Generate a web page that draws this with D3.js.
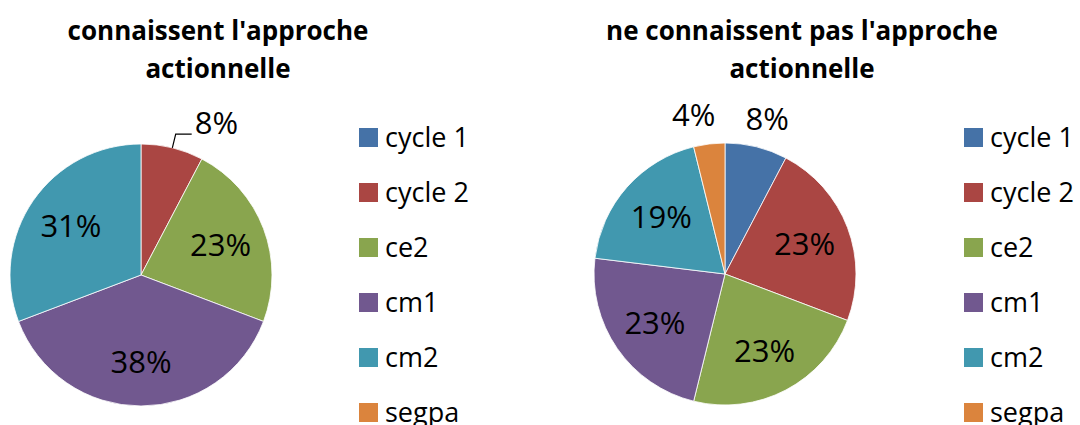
<!DOCTYPE html>
<html>
<head>
<meta charset="utf-8">
<style>
  body { margin: 0; background: #fff; }
  svg { display: block; font-family: "Open Sans", sans-serif; }
</style>
<script src="https://d3js.org/d3.v7.min.js"></script>
</head>
<body>
<script>
// data (counts per class, shown as %)
const categories = ["cycle 1", "cycle 2", "ce2", "cm1", "cm2", "segpa"];
const colors = ["#4572A7", "#AA4643", "#89A54E", "#71588F", "#4198AF", "#DB843D"];
const titleLeft = ["connaissent l'approche", "actionnelle"];
const titleRight = ["ne connaissent pas l'approche", "actionnelle"];
const valuesLeft = [0, 1, 3, 5, 4, 0];
const valuesRight = [2, 6, 6, 6, 5, 1];

const w = 1080, h = 425;
const svg = d3.select("body").append("svg").attr("width", w).attr("height", h);

const color = d3.scaleOrdinal().domain(categories).range(colors);
const pie = d3.pie().sort(null).value(d => d.v);

function drawChart(cfg) {
    const g = svg.append("g");
    const r = cfg.r;

    g.append("text")
        .attr("x", cfg.titleX).attr("y", 40)
        .attr("text-anchor", "middle")
        .style("font-weight", "bold").style("font-size", "26px")
        .selectAll("tspan").data(cfg.title).enter().append("tspan")
        .attr("x", cfg.titleX).attr("dy", (d, i) => i ? 38 : 0)
        .text(d => d);

    const data = categories.map((c, i) => ({ c: c, v: cfg.values[i] }));
    const total = d3.sum(cfg.values);
    const arcs = pie(data);
    const arc = d3.arc().innerRadius(0).outerRadius(r);
    const pg = g.append("g").attr("transform", `translate(${cfg.cx},${cfg.cy})`);

    pg.selectAll("path").data(arcs.filter(a => a.data.v > 0)).enter().append("path")
        .attr("d", arc)
        .attr("fill", d => color(d.data.c))
        .attr("stroke", "#fff").attr("stroke-width", 0.8);

    const fmt = d => Math.round(d.data.v / total * 100) + "%";
    const mid = d => (d.startAngle + d.endAngle) / 2;

    // inside labels
    pg.selectAll("text.in").data(arcs.filter(a => a.data.v / total >= 0.1)).enter()
        .append("text").attr("class", "in")
        .attr("x", d => Math.sin(mid(d)) * r * 0.65)
        .attr("y", d => -Math.cos(mid(d)) * r * 0.66)
        .attr("dy", "0.36em")
        .attr("text-anchor", "middle")
        .style("font-size", "31px")
        .text(fmt);

    // small slices: labels outside
    const small = arcs.filter(a => a.data.v > 0 && a.data.v / total < 0.1);
    small.forEach(d => {
        const a = mid(d);
        if (cfg.leader) {
            const p0 = [Math.sin(a) * r, -Math.cos(a) * r];
            const p1 = [Math.sin(a) * (r + 14), -Math.cos(a) * (r + 14)];
            const p2 = [p1[0] + 16, p1[1]];
            pg.append("path")
                .attr("d", d3.line()([p0, p1, p2]))
                .attr("fill", "none").attr("stroke", "#000").attr("stroke-width", 1.2);
            pg.append("text")
                .attr("x", p2[0] + 3).attr("y", p2[1])
                .style("font-size", "31px")
                .text(fmt(d));
        } else {
            // push label sideways away from the top so neighbours keep apart
            const R = r + 29;
            const side = Math.sin(a) < 0 ? -12 : 4;
            pg.append("text")
                .attr("x", Math.sin(a) * R + side)
                .attr("y", -Math.cos(a) * R)
                .attr("dy", "0.36em")
                .attr("text-anchor", "middle")
                .style("font-size", "31px")
                .text(fmt(d));
        }
    });

    // legend
    const y = d3.scalePoint().domain(categories).range([128, 403]);
    const lg = g.append("g");
    lg.selectAll("rect").data(categories).enter().append("rect")
        .attr("x", cfg.legendX).attr("y", d => y(d))
        .attr("width", 19).attr("height", 19)
        .attr("fill", d => color(d));
    lg.selectAll("text").data(categories).enter().append("text")
        .attr("x", cfg.legendX + 26).attr("y", d => y(d) + 19)
        .style("font-size", "27px")
        .text(d => d);
}

drawChart({ title: titleLeft, values: valuesLeft, titleX: 218, cx: 141, cy: 275, r: 131, legendX: 359, leader: true });
drawChart({ title: titleRight, values: valuesRight, titleX: 802, cx: 725, cy: 274, r: 131, legendX: 964, leader: false });
</script>
</body>
</html>
